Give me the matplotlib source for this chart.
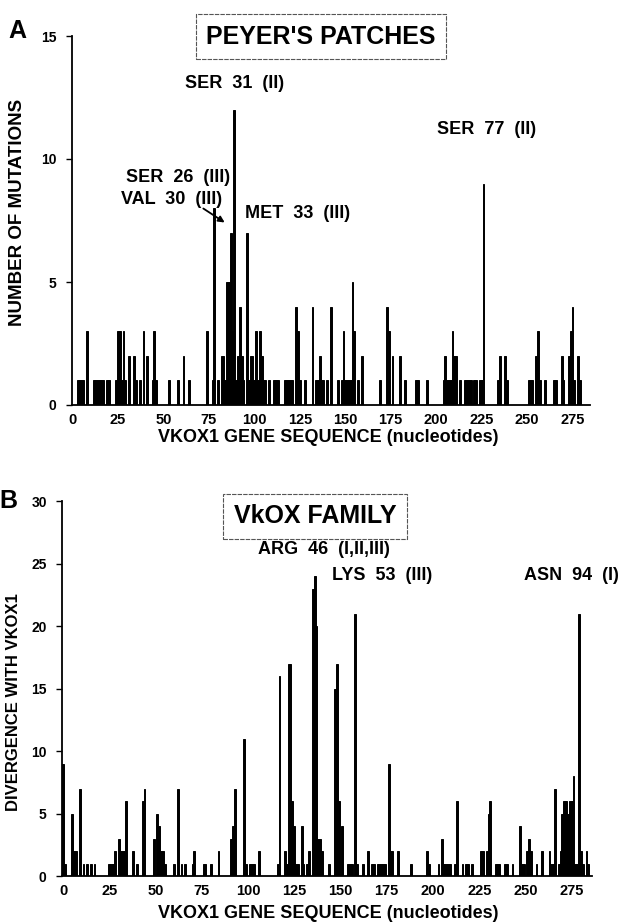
import matplotlib
matplotlib.use("Agg")
import matplotlib.pyplot as plt
from matplotlib.patches import FancyArrowPatch

plt.rcParams['font.family'] = ['Liberation Sans', 'DejaVu Sans']

# ---------------- data ----------------
# Panel A: Peyer's patches, number of mutations per nucleotide position
a_pos = [3, 4, 5, 6, 8, 12, 13, 14, 15, 16, 17, 19, 20, 24, 25, 26, 27, 28, 29, 31,
         34, 35, 37, 39, 41, 44, 45, 46, 53, 58, 61, 64, 74, 77, 78, 80, 82, 83, 84,
         85, 86, 87, 88, 89, 90, 91, 92, 93, 94, 96, 97, 98, 99, 100, 101, 102, 103,
         104, 105, 106, 108, 111, 112, 113, 117, 118, 119, 120, 121, 123, 124, 125,
         128, 132, 134, 135, 136, 137, 138, 140, 142, 146, 148, 149, 150, 151, 152,
         153, 154, 155, 157, 159, 169, 173, 174, 176, 180, 183, 189, 190, 195, 204,
         205, 206, 207, 208, 209, 210, 211, 213, 216, 217, 218, 219, 221, 222, 224,
         225, 226, 234, 235, 238, 239, 251, 252, 253, 255, 256, 257, 260, 265, 266,
         269, 270, 273, 274, 275, 276, 278, 279]
a_val = [1, 1, 1, 1, 3, 1, 1, 1, 1, 1, 1, 1, 1, 1, 3, 3, 1, 3, 1, 2,
         2, 1, 1, 3, 2, 1, 3, 1, 1, 1, 2, 1, 3, 1, 8, 1, 2, 2, 1,
         5, 5, 7, 3, 12, 1, 2, 4, 2, 1, 7, 1, 2, 2, 1, 3, 1, 3,
         2, 1, 1, 1, 1, 1, 1, 1, 1, 1, 1, 1, 4, 3, 1,
         1, 4, 1, 1, 2, 1, 1, 1, 4, 1, 1, 3, 1, 1, 1,
         1, 5, 3, 1, 2, 1, 4, 3, 2, 2, 1, 1, 1, 1, 1,
         2, 1, 1, 1, 3, 2, 2, 1, 1, 1, 1, 1, 1, 1, 1,
         1, 9, 1, 2, 2, 1, 1, 1, 1, 2, 3, 1, 1, 1, 1,
         2, 1, 2, 3, 4, 1, 2, 1]

# Panel B: VkOX family, divergence with VKOX1 per nucleotide position
b_pos = [0, 1, 5, 6, 7, 9, 11, 13, 15, 17, 25, 26, 27, 28, 30, 31, 32, 33, 34, 38,
         40, 43, 44, 49, 51, 52, 53, 54, 55, 60, 62, 64, 66, 70, 71, 76, 77, 80, 84,
         91, 92, 93, 98, 99, 101, 102, 103, 106, 116, 117, 120, 121, 122, 123, 124,
         125, 126, 127, 129, 130, 132, 133, 135, 136, 137, 138, 139, 140, 144, 147,
         148, 149, 151, 154, 155, 156, 158, 159, 162, 165, 167, 168, 170, 171, 172,
         173, 174, 176, 177, 178, 181, 188, 197, 198, 203, 205, 206, 207, 208, 209,
         212, 213, 216, 218, 219, 221, 226, 227, 229, 230, 231, 234, 235, 236, 239,
         240, 243, 247, 248, 249, 251, 252, 253, 256, 259, 263, 264, 265, 266, 268,
         269, 270, 271, 272, 273, 274, 275, 276, 277, 278, 279, 280, 281, 283, 284]
b_val = [9, 1, 5, 2, 2, 7, 1, 1, 1, 1, 1, 1, 1, 2, 3, 2, 2, 2, 6, 2,
         1, 6, 7, 3, 5, 4, 2, 2, 1, 1, 7, 1, 1, 1, 2, 1, 1, 1, 2,
         3, 4, 7, 11, 1, 1, 1, 1, 2, 1, 16, 2, 1, 17, 17, 6,
         4, 1, 1, 4, 1, 1, 2, 23, 24, 20, 3, 3, 2, 1, 15,
         17, 6, 4, 1, 1, 1, 21, 1, 1, 2, 1, 1, 1, 1, 1,
         1, 1, 9, 2, 2, 2, 1, 2, 1, 1, 3, 1, 1, 1, 1,
         1, 6, 1, 1, 1, 1, 2, 2, 2, 5, 6, 1, 1, 1, 1,
         1, 1, 4, 1, 1, 2, 3, 2, 1, 2, 2, 1, 1, 7, 1,
         2, 5, 6, 6, 5, 6, 6, 8, 1, 1, 21, 2, 1, 2, 1]

x_ticks = [0, 25, 50, 75, 100, 125, 150, 175, 200, 225, 250, 275]
a_yticks = [0, 5, 10, 15]
b_yticks = [0, 5, 10, 15, 20, 25, 30]

W, H = 637, 922
fig = plt.figure(figsize=(W / 100, H / 100), dpi=100)


def fx(px):
    return px / W


def fy(py):
    return 1 - py / H


def style_axes(ax, yticks):
    for s in ('top', 'right'):
        ax.spines[s].set_visible(False)
    for s in ('left', 'bottom'):
        ax.spines[s].set_linewidth(1.3)
    ax.set_xticks(x_ticks)
    ax.set_xticklabels([str(t) for t in x_ticks], fontsize=10.5, fontweight='bold')
    ax.set_yticks(yticks)
    ax.set_yticklabels([str(t) for t in yticks], fontsize=10, fontweight='bold')
    ax.tick_params(axis='x', length=0, pad=6)
    ax.tick_params(axis='y', length=4, width=1, direction='out', pad=7)


box_style = dict(boxstyle='square,pad=0.42', facecolor='white', edgecolor='#555555',
                 linewidth=0.8, linestyle=(0, (4, 1)))
fs_ann = 13
bar_kw = dict(width=1.0, color='black', edgecolor='black', linewidth=0.7)


def ann(x, y, s, ha='left'):
    fig.text(fx(x), fy(y), s, ha=ha, va='center', fontsize=fs_ann, fontweight='bold')


# ---------------- Panel A ----------------
axA = fig.add_axes([fx(72), fy(405), (590 - 72) / W, (405 - 36) / H])
axA.bar(a_pos, a_val, **bar_kw)
axA.set_xlim(-0.3, 284.6)
axA.set_ylim(0, 15)
style_axes(axA, a_yticks)

fig.text(fx(18), fy(212), 'NUMBER OF MUTATIONS', rotation=90, ha='center', va='center',
         fontsize=13.5, fontweight='bold')
fig.text(fx(328), fy(437), 'VKOX1 GENE SEQUENCE (nucleotides)', ha='center', va='center',
         fontsize=13, fontweight='bold')
fig.text(fx(17), fy(31), 'A', ha='center', va='center', fontsize=18, fontweight='bold')
fig.text(fx(321), fy(37), "PEYER'S PATCHES", ha='center', va='center', fontsize=18,
         fontweight='bold', bbox=box_style)

ann(185, 83, 'SER  31  (II)')
ann(230, 178, 'SER  26  (III)', ha='right')
ann(222, 199, 'VAL  30  (III)', ha='right')
ann(245, 214, 'MET  33  (III)')
ann(487, 130, 'SER  77  (II)', ha='center')
arr = FancyArrowPatch((fx(201), fy(207)), (fx(227), fy(224)), transform=fig.transFigure,
                      arrowstyle='-|>', mutation_scale=9, color='black', linewidth=1.3)
fig.patches.append(arr)

# ---------------- Panel B ----------------
axB = fig.add_axes([fx(62), fy(876), (592 - 62) / W, (876 - 501) / H])
axB.bar(b_pos, b_val, **bar_kw)
axB.set_xlim(-0.6, 286)
axB.set_ylim(0, 30)
style_axes(axB, b_yticks)

fig.text(fx(14), fy(702), 'DIVERGENCE WITH VKOX1', rotation=90, ha='center', va='center',
         fontsize=12, fontweight='bold')
fig.text(fx(328), fy(913), 'VKOX1 GENE SEQUENCE (nucleotides)', ha='center', va='center',
         fontsize=13, fontweight='bold')
fig.text(fx(8), fy(501), 'B', ha='center', va='center', fontsize=18, fontweight='bold')
fig.text(fx(315), fy(516), 'VkOX FAMILY', ha='center', va='center', fontsize=18,
         fontweight='bold', bbox=box_style)

ann(258, 550, 'ARG  46  (I,II,III)')
ann(332, 576, 'LYS  53  (III)')
ann(524, 576, 'ASN  94  (I)')

fig.savefig('out.png', dpi=100)
